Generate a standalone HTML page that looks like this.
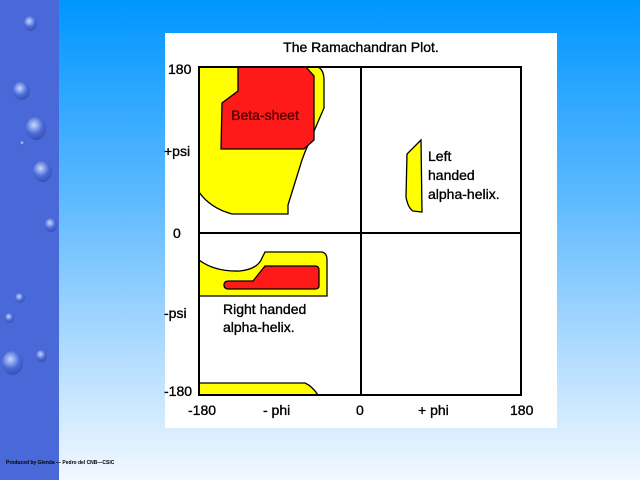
<!DOCTYPE html>
<html><head><style>
html,body{margin:0;padding:0;}
body{width:640px;height:480px;overflow:hidden;position:relative;background:linear-gradient(to bottom,#0096ff 0%,#5ab8ff 40%,#a8d8ff 70%,#f2f8ff 100%);font-family:"Liberation Sans",sans-serif;}
#strip{position:absolute;left:0;top:0;width:59px;height:480px;background:#4a69d9;}
.b{position:absolute;border-radius:50%;background:radial-gradient(circle at 40% 35%,#c8d8ff 0%,#4a6ad8 45%,#2a3f98 100%);}
#foot{position:absolute;left:6px;top:460px;font-size:5px;font-weight:bold;color:#000;white-space:nowrap;}
svg{position:absolute;left:0;top:0;}
text{font-family:"Liberation Sans",sans-serif;font-size:14px;fill:#000;stroke:#000;stroke-width:0.35;}
</style></head><body>
<div id="strip"></div>
<div class="b" style="left:24px;top:16px;width:13px;height:15px"></div>
<div class="b" style="left:13px;top:82px;width:17px;height:18px"></div>
<div class="b" style="left:26px;top:117px;width:20px;height:23px"></div>
<div class="b" style="left:20px;top:141px;width:5px;height:5px"></div>
<div class="b" style="left:33px;top:161px;width:19px;height:21px"></div>
<div class="b" style="left:45px;top:218px;width:12px;height:14px"></div>
<div class="b" style="left:15px;top:293px;width:10px;height:10px"></div>
<div class="b" style="left:5px;top:313px;width:9px;height:10px"></div>
<div class="b" style="left:2px;top:351px;width:21px;height:24px"></div>
<div class="b" style="left:36px;top:350px;width:11px;height:12px"></div>
<div id="foot">Produced by Glenda — Pedro del CNB—CSIC</div>
<svg width="640" height="480" viewBox="0 0 640 480">
<rect x="165" y="33" width="392" height="395" fill="#fff"/>
<text x="361" y="52" text-anchor="middle">The Ramachandran Plot.</text>
<path d="M199,67 L318,67 Q324,70 324,80 L324,108 L305,152 L302,160 L288,205 L288,214 L232,214 Q210,208 199,192 Z" fill="#ffff00" stroke="#000" stroke-width="1.3"/>
<path d="M238,67 L306,67 L314,76 L314,140 L304,149 L221,149 L222,103 L238,91 Z" fill="#ff1a1a" stroke="#000" stroke-width="1.3"/>
<text x="265" y="120" text-anchor="middle" style="fill:#550000;stroke:#550000">Beta-sheet</text>
<path d="M199,260 Q215,272 240,271 Q258,269 262,258 L265,252 L322,252 Q327,253 327,260 L327,296 L199,296 Z" fill="#ffff00" stroke="#000" stroke-width="1.3"/>
<path d="M229,281 L253,281 L265,266 L315,266 Q319,266 319,270 L319,286 Q319,289 315,289 L229,289 Q224,289 224,285 Q224,281 229,281 Z" fill="#ff1a1a" stroke="#000" stroke-width="1.3"/>
<path d="M199,383 L305,383 Q312,386 318,395 L199,395 Z" fill="#ffff00" stroke="#000" stroke-width="1.3"/>
<path d="M421,140 L407,154 L406,197 Q408,208 413,211 L422,212 Z" fill="#ffff00" stroke="#000" stroke-width="1.3"/>
<rect x="199" y="67" width="322" height="328" fill="none" stroke="#000" stroke-width="2"/>
<line x1="361" y1="67" x2="361" y2="395" stroke="#000" stroke-width="2"/>
<line x1="199" y1="233" x2="521" y2="233" stroke="#000" stroke-width="2"/>
<text x="168" y="74">180</text>
<text x="164" y="156">+psi</text>
<text x="173" y="238">0</text>
<text x="164" y="318">-psi</text>
<text x="164" y="396">-180</text>
<text x="188" y="415">-180</text>
<text x="263" y="415">- phi</text>
<text x="356" y="415">0</text>
<text x="418" y="415">+ phi</text>
<text x="510" y="415">180</text>
<text x="428" y="161">Left</text>
<text x="428" y="180">handed</text>
<text x="428" y="199">alpha-helix.</text>
<text x="223" y="314">Right handed</text>
<text x="223" y="332">alpha-helix.</text>
</svg>
</body></html>
